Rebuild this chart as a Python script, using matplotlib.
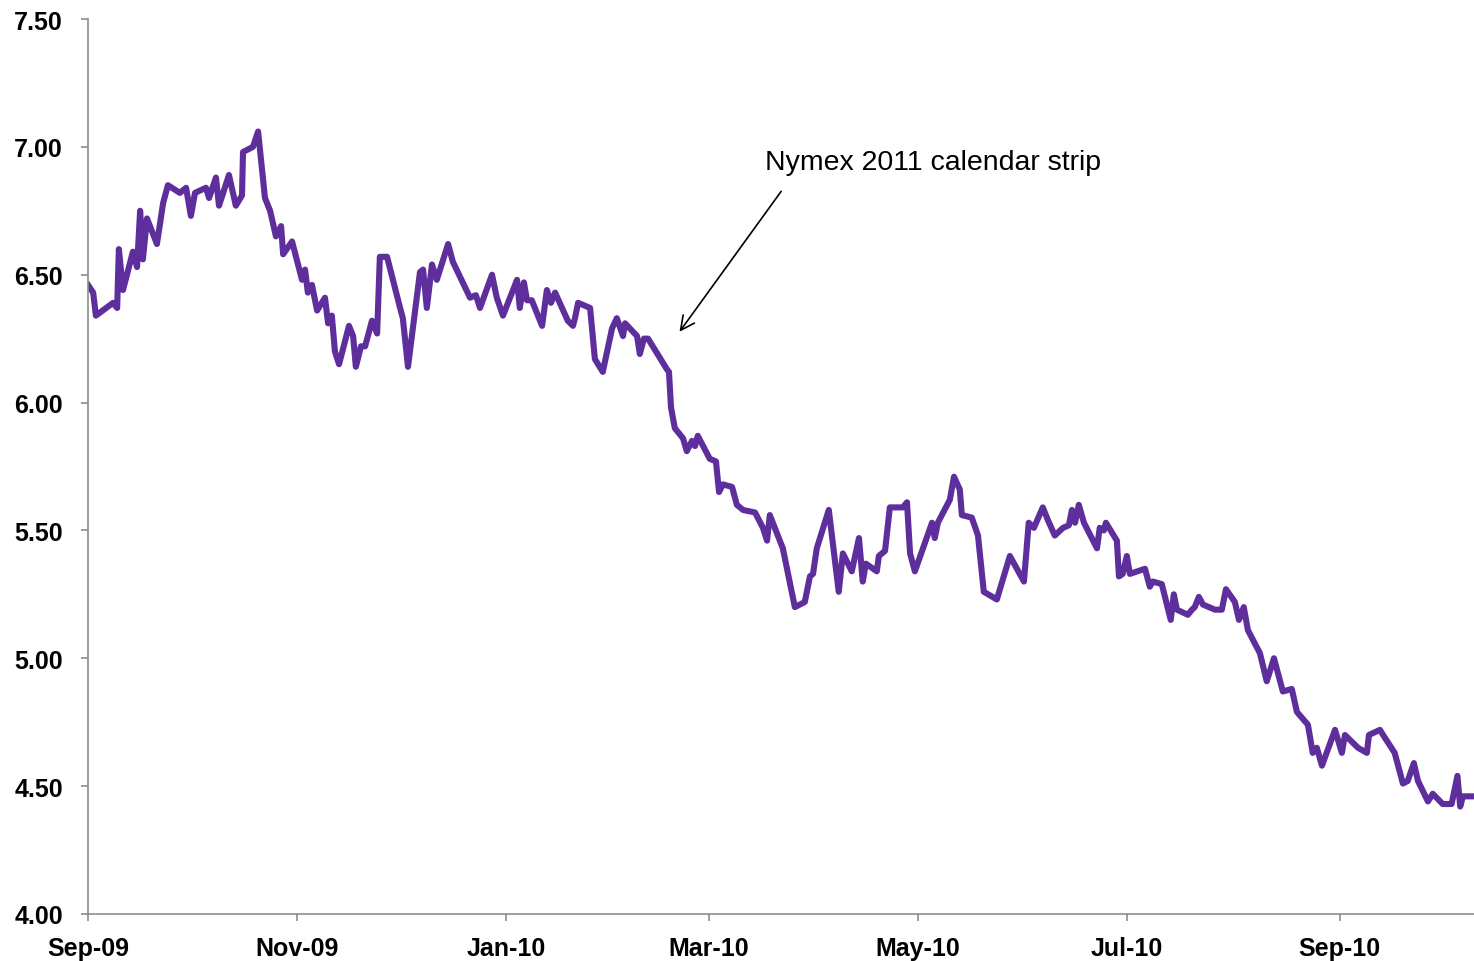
import matplotlib
matplotlib.use('Agg')
import matplotlib.pyplot as plt
import matplotlib.dates as mdates
import pandas as pd

# days after 2009-09-01 and price ($/MMBtu)
days = [0, 1.5, 2.3, 7.3, 8.5, 9.0, 10.2, 13.1, 14.3, 15.2, 16.0, 17.2, 20.1, 21.9, 23.3,
        26.8, 28.6, 30.0, 31.2, 34.4, 35.3, 37.3, 38.2, 41.1, 43.1, 44.9, 45.2, 48.1, 49.6,
        51.6, 53.1, 54.8, 56.3, 56.9, 59.5, 62.4, 63.3, 64.1, 65.3, 66.8, 69.1, 70.0, 71.1,
        72.0, 73.2, 76.1, 77.3, 78.1, 79.6, 80.8, 82.8, 84.3, 85.1, 87.2, 91.0, 91.8, 93.3,
        96.8, 97.7, 98.8, 100.3, 101.7, 105.0, 106.4, 111.4, 113.1, 114.3, 117.8, 119.2,
        121.0, 125.1, 125.9, 127.1, 128.0, 129.4, 132.4, 133.8, 135.0, 136.2, 139.9, 141.4,
        142.0, 142.9, 146.4, 147.8, 150.1, 152.8, 154.2, 156.0, 156.6, 160.1, 160.9, 162.1,
        163.3, 168.8, 169.4, 170.0, 171.1, 173.5, 174.6, 176.1, 177.0, 177.8, 181.3, 183.1,
        184.0, 185.1, 187.8, 189.2, 191.0, 194.5, 196.8, 198.0, 198.8, 202.6, 206.1, 209.0,
        210.5, 211.4, 212.5, 216.0, 218.9, 220.1, 222.7, 224.8, 225.9, 226.8, 230.0, 230.6,
        232.4, 233.8, 237.6, 238.8, 239.7, 241.1, 246.1, 246.9, 247.8, 251.3, 252.5, 254.2,
        254.8, 257.7, 259.5, 261.2, 265.0, 266.8, 268.8, 272.9, 274.3, 275.8, 278.4, 279.9,
        281.9, 284.3, 286.0, 286.9, 287.8, 288.9, 290.4, 294.2, 295.0, 296.2, 296.8, 300.0,
        300.6, 301.7, 302.9, 303.8, 308.2, 309.6, 310.5, 313.1, 315.7, 316.6, 317.5, 320.7,
        321.9, 322.7, 323.9, 325.1, 328.6, 329.7, 330.6, 331.8, 334.4, 335.6, 337.0, 338.2,
        341.7, 343.7, 345.8, 348.4, 351.0, 352.5, 355.7, 357.1, 358.3, 359.8, 363.6, 365.6,
        366.5, 370.3, 372.9, 373.5, 376.7, 378.1, 381.0, 383.4, 384.8, 386.6, 387.8, 390.7,
        392.1, 395.0, 397.6, 399.3, 400.1, 400.9, 403.5]
prices = [6.46, 6.43, 6.34, 6.39, 6.37, 6.60, 6.44, 6.59, 6.53, 6.75, 6.56, 6.72, 6.62, 6.78, 6.85,
          6.82, 6.84, 6.73, 6.82, 6.84, 6.80, 6.88, 6.77, 6.89, 6.77, 6.81, 6.98, 7.00, 7.06,
          6.80, 6.75, 6.65, 6.69, 6.58, 6.63, 6.48, 6.52, 6.43, 6.46, 6.36, 6.41, 6.31, 6.34,
          6.20, 6.15, 6.30, 6.26, 6.14, 6.22, 6.22, 6.32, 6.27, 6.57, 6.57, 6.37, 6.33, 6.14,
          6.51, 6.52, 6.37, 6.54, 6.48, 6.62, 6.55, 6.41, 6.42, 6.37, 6.50, 6.41,
          6.34, 6.48, 6.37, 6.47, 6.40, 6.40, 6.30, 6.44, 6.39, 6.43, 6.32, 6.30,
          6.33, 6.39, 6.37, 6.17, 6.12, 6.29, 6.33, 6.26, 6.31, 6.26, 6.19, 6.25,
          6.25, 6.13, 6.12, 5.98, 5.90, 5.86, 5.81, 5.85, 5.83, 5.87, 5.78, 5.77,
          5.65, 5.68, 5.67, 5.60, 5.58, 5.57, 5.51, 5.46, 5.56, 5.43, 5.20, 5.22,
          5.32, 5.33, 5.43, 5.58, 5.26, 5.41, 5.34, 5.47, 5.30, 5.37, 5.34, 5.40,
          5.42, 5.59, 5.59, 5.61, 5.41, 5.34, 5.53, 5.47, 5.53, 5.62, 5.71, 5.66,
          5.56, 5.55, 5.48, 5.26, 5.23, 5.31, 5.40, 5.30, 5.53, 5.51, 5.59, 5.54,
          5.48, 5.51, 5.52, 5.58, 5.53, 5.60, 5.53, 5.43, 5.51, 5.50, 5.53, 5.46,
          5.32, 5.33, 5.40, 5.33, 5.35, 5.28, 5.30, 5.29, 5.15, 5.25, 5.19, 5.17,
          5.19, 5.20, 5.24, 5.21, 5.19, 5.19, 5.19, 5.27, 5.22, 5.15, 5.20, 5.11,
          5.02, 4.91, 5.00, 4.87, 4.88, 4.79, 4.74, 4.63, 4.65, 4.58, 4.72, 4.63,
          4.70, 4.65, 4.63, 4.70, 4.72, 4.69, 4.63, 4.51, 4.52, 4.59, 4.52, 4.44,
          4.47, 4.43, 4.43, 4.54, 4.42, 4.46, 4.46]

start = pd.Timestamp('2009-09-01')
dates = start + pd.to_timedelta(days, unit='D')

plt.rcParams['font.family'] = ['Liberation Sans', 'DejaVu Sans']

fig = plt.figure(figsize=(14.74, 9.62), dpi=100, facecolor='w')
ax = fig.add_axes([0.0597, 0.0489, 0.9400, 0.9303])

ax.plot(dates, prices, color='#5E2F9C', lw=4.4, solid_joinstyle='round')

ax.set_xlim(start, start + pd.Timedelta(days=404))
ax.set_ylim(4.0, 7.5)
ax.set_yticks([4.0, 4.5, 5.0, 5.5, 6.0, 6.5, 7.0, 7.5])
ax.yaxis.set_major_formatter(matplotlib.ticker.FormatStrFormatter('%.2f'))
ax.xaxis.set_major_locator(mdates.MonthLocator(bymonth=[1, 3, 5, 7, 9, 11]))
ax.xaxis.set_major_formatter(mdates.DateFormatter('%b-%y'))

for side in ['top', 'right']:
    ax.spines[side].set_visible(False)
for side in ['left', 'bottom']:
    ax.spines[side].set_color('#8C8C8C')
    ax.spines[side].set_linewidth(1.2)

ax.tick_params(axis='y', length=5, width=1.2, color='#8C8C8C', pad=13, labelsize=18)
ax.tick_params(axis='x', length=5, width=1.2, color='#8C8C8C', pad=11, labelsize=18)
for lbl in ax.get_xticklabels() + ax.get_yticklabels():
    lbl.set_fontweight('bold')

# annotation
ax.text(start + pd.Timedelta(days=197.4), 6.94, 'Nymex 2011 calendar strip',
        fontsize=20.5, ha='left', va='center')
ax.annotate('', xy=(start + pd.Timedelta(days=172), 6.268),
            xytext=(start + pd.Timedelta(days=202.6), 6.835),
            arrowprops=dict(arrowstyle='->', lw=1.2, color='black', mutation_scale=25))

plt.savefig('out.png', dpi=100)
